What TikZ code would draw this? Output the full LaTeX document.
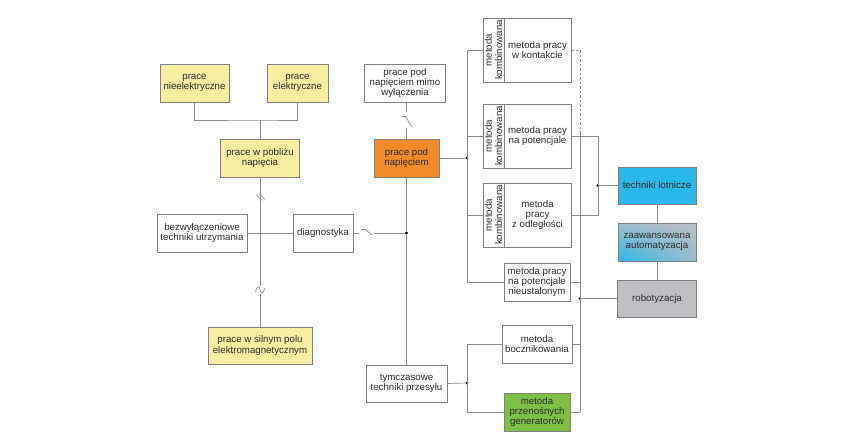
\documentclass[tikz,border=0pt]{standalone}
\usepackage{fontspec}
\setmainfont{Liberation Sans}
\usetikzlibrary{shadings}
\definecolor{yel}{RGB}{246,238,160}
\definecolor{org}{RGB}{240,138,42}
\definecolor{cya}{RGB}{42,184,234}
\definecolor{gry}{RGB}{190,190,195}
\definecolor{grn}{RGB}{126,192,68}
\definecolor{bord}{RGB}{128,128,128}
\definecolor{lin}{RGB}{140,140,140}
\definecolor{txt}{RGB}{45,45,45}
\tikzset{
  box/.style={draw=bord, line width=0.7pt, inner sep=0pt, align=center, text=txt,
    font=\fontsize{9.7}{10.4}\selectfont},
  conn/.style={draw=lin, line width=0.7pt},
  jdot/.style={circle, fill=black, inner sep=0pt, minimum size=3.3pt},
}
\begin{document}
\begin{tikzpicture}[x=1pt,y=-1pt]
\useasboundingbox (0,0) rectangle (852,447);
\fill[white] (0,0) rectangle (852,447);

% left group
\node[box, fill=yel, minimum width=69pt, minimum height=38pt] (nieel) at (194.5,83) {prace\\nieelektryczne};
\node[box, fill=yel, minimum width=61pt, minimum height=38pt] (elek) at (297.5,83) {prace\\elektryczne};
\node[box, fill=yel, minimum width=79pt, minimum height=38pt] (pobl) at (260,158) {prace w pobliżu\\napięcia};
\node[box, minimum width=90pt, minimum height=38pt] (bezw) at (202,233) {bezwyłączeniowe\\techniki utrzymania};
\node[box, minimum width=60pt, minimum height=38pt] (diag) at (323,233) {diagnostyka};
\node[box, fill=yel, minimum width=104pt, minimum height=37pt] (siln) at (260,345.5) {prace w silnym polu\\elektromagnetycznym};

% middle
\node[box, minimum width=81pt, minimum height=38pt] (mimo) at (405,83) {prace pod\\napięciem mimo\\wyłączenia};
\node[box, fill=org, minimum width=65pt, minimum height=38pt] (ppn) at (406.5,158) {prace pod\\napięciem};
\node[box, minimum width=81pt, minimum height=37pt] (tymc) at (406.5,383.5) {tymczasowe\\techniki przesyłu};
\node[box, minimum width=70pt, minimum height=38pt] (bocz) at (537,344) {metoda\\bocznikowania};
\node[box, fill=grn, minimum width=66pt, minimum height=38pt] (gene) at (537,412) {metoda\\przenośnych\\generatorów};

% combined-method boxes
\node[box, minimum width=21pt, minimum height=64pt] (k1a) at (493.5,50) {};
\node[box, minimum width=67pt, minimum height=64pt] (k1b) at (537.5,50) {metoda pracy\\w kontakcie};
\node[box, minimum width=21pt, minimum height=64pt] (k2a) at (493.5,136) {};
\node[box, minimum width=67pt, minimum height=64pt] (k2b) at (537.5,136) {metoda pracy\\na potencjale};
\node[box, minimum width=21pt, minimum height=64pt] (k3a) at (493.5,215) {};
\node[box, minimum width=67pt, minimum height=64pt] (k3b) at (537.5,215) {metoda\\pracy\\z odległości};
\foreach \n in {k1a,k2a,k3a}
  \node[text=txt, align=center, rotate=90, inner sep=0pt, font=\fontsize{9.7}{10.2}\selectfont] (\n t) at (\n) {metoda\\kombinowana};
\node[box, minimum width=66pt, minimum height=38pt] (nieu) at (537,282) {metoda pracy\\na potencjale\\nieustalonym};

% right column
\node[box, fill=cya, minimum width=78pt, minimum height=37pt] (lotn) at (657,185.5) {techniki lotnicze};
\shade[lower left=cya, upper left=gry!80!cya, upper right=gry, lower right=gry!75!cya] (618,223) rectangle (696,261);
\node[box, minimum width=78pt, minimum height=38pt] (zaaw) at (657,242) {zaawansowana\\automatyzacja};
\node[box, fill=gry, minimum width=79pt, minimum height=37pt] (robo) at (657,298.5) {robotyzacja};

% junction coordinates
\coordinate (j1) at (260,120);
\node[jdot] (d1) at (406.5,233) {};
\node[jdot] (d2) at (467,158) {};
\node[jdot] (d3) at (467,383) {};
\node[jdot] (d4) at (580,298.5) {};
\node[jdot] (d5) at (598,185.5) {};
\coordinate (bt) at (467,50);
\coordinate (bb) at (467,282);
\coordinate (rt) at (580,50);
\coordinate (rm) at (580,132);
\coordinate (rb) at (580,412);
\coordinate (qt) at (598,136);
\coordinate (qb) at (598,215);

% left connectors
\draw[conn] (nieel.south) |- (j1) -| (elek.south);
\draw[conn] (j1) -- (pobl.north);
\draw[conn] (pobl.south) -- (siln.north);
\draw[conn] (bezw.east) -- (diag.west);
% "//" mark
\draw[conn] (256,194.5) -- (262,200.5);
\draw[conn] (259,193.5) -- (265,199.5);
% "~" mark
\fill[white] (257,286) rectangle (263,294);
\draw[conn] (255.5,292) .. controls (257,285.5) and (259.5,285.5) .. (260,289.5) .. controls (260.5,294) and (263,294) .. (265,288);

% switch after diagnostyka
\coordinate (s1a) at (359,233);
\coordinate (s1b) at (374,233);
\draw[conn] (diag.east) -- (s1a);
\draw[conn] (361,229.5) -- (365,229.5) -- (372.5,235);
\draw[conn] (s1b) -- (d1);

% middle vertical with switch
\coordinate (s2a) at (406.5,112);
\coordinate (s2b) at (406.5,128);
\draw[conn] (mimo.south -| s2a) -- (s2a);
\draw[conn] (402,116.5) -- (405.5,116.5) -- (412,127);
\draw[conn] (s2b) -- (ppn.north);
\draw[conn] (ppn.south) -- (d1) -- (tymc.north);
\draw[conn] (ppn.east) -- (d2);

% left bus of right section
\draw[conn] (bt) -- (bb);
\draw[conn] (bt) -- (k1a.west);
\draw[conn] (bt |- k2a.west) -- (k2a.west);
\draw[conn] (bt |- k3a.west) -- (k3a.west);
\draw[conn] (bb) -- (nieu.west);

% lower bus
\draw[conn] (tymc.east) -- (d3);
\draw[conn] (d3 |- bocz.west) -- (bocz.west);
\draw[conn] (d3 |- bocz.west) -- (d3 |- gene.west) -- (gene.west);

% right bus
\draw[conn, dash pattern=on 2.5pt off 2pt] (k1b.east) -- (rt) -- (rm);
\draw[conn] (rm) -- (rb);
\draw[conn] (nieu.east) -- (nieu.east -| rt);
\draw[conn] (bocz.east) -- (bocz.east -| rt);
\draw[conn] (gene.east) -- (rb);
\draw[conn] (d4) -- (robo.west);

% loop for flying techniques
\draw[conn] (k2b.east) -- (qt) -- (qb) -- (k3b.east);
\draw[conn] (d5) -- (lotn.west);
\draw[conn] (lotn.south) -- (zaaw.north);
\draw[conn] (zaaw.south) -- (robo.north);
\end{tikzpicture}
\end{document}
